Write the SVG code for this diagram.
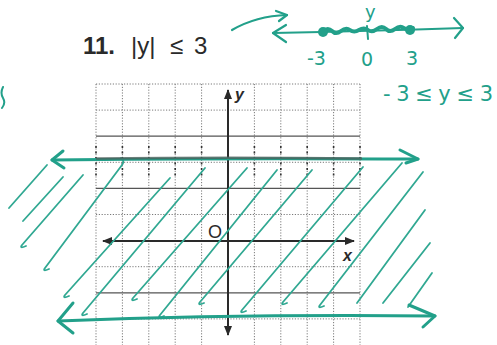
<svg xmlns="http://www.w3.org/2000/svg" width="497" height="345" viewBox="0 0 497 345">
<style>
.grid{stroke:#7a7a7a;stroke-width:1;stroke-dasharray:1.2 1.6;fill:none}
.gsolid{stroke:#555;stroke-width:1.2;fill:none}
.pen{stroke:#333;stroke-width:1.6;stroke-dasharray:2 3.5;fill:none}
.axis{stroke:#2a2a2a;stroke-width:2;fill:none}
.teal{stroke:#22a08a;fill:none;stroke-linecap:round;stroke-linejoin:round}
.hatch{stroke:#30a892;stroke-width:1.8;fill:none;stroke-linecap:round;stroke-linejoin:round}
.hand{font-family:"DejaVu Sans","Liberation Sans",sans-serif;fill:#22a08a}
.lbl{font-family:"Liberation Sans",Arial,sans-serif;fill:#2a2a2a}
</style>
<defs>
<marker id="ah" viewBox="0 0 10 10" refX="9" refY="5" markerWidth="5" markerHeight="5" orient="auto-start-reverse" markerUnits="strokeWidth">
<path d="M0,1 L10,5 L0,9 Z" fill="#2a2a2a"/>
</marker>
</defs>
<rect width="497" height="345" fill="#ffffff"/>

<g id="title">
<text class="lbl" x="83" y="54" font-size="24" font-weight="bold">11.</text>
<text class="lbl" x="131" y="54" font-size="24">|y| <tspan x="170">≤</tspan> <tspan x="194">3</tspan></text>
</g>

<g id="number-line">
<path class="teal" stroke-width="2.2" d="M232,30 Q256,16 287,15"/>
<path class="teal" stroke-width="2.2" d="M276,11 L287,15 L279,21"/>
<path class="teal" stroke-width="2.2" d="M273,33 Q370,31 463,28"/>
<path class="teal" stroke-width="2.2" d="M286,25 L273,33 L286,42"/>
<path class="teal" stroke-width="2.2" d="M454,18 L463,28 L455,38"/>
<path class="teal" stroke-width="4" d="M323,31 q5,-4 9,0 t9,0 t9,-1 t9,0 t9,0 t9,-1 t9,0 t9,0 t9,-1 t9,0"/>
<circle cx="323" cy="32" r="5" fill="#22a08a"/>
<circle cx="410" cy="30" r="5" fill="#22a08a"/>
<path class="teal" stroke-width="2" d="M367,26 L368,39"/>
<text class="hand" x="365" y="18" font-size="18">y</text>
<text class="hand" x="307" y="65" font-size="19">-3</text>
<text class="hand" x="361" y="66" font-size="19">0</text>
<text class="hand" x="406" y="65" font-size="19">3</text>
<text class="hand" x="383" y="101" font-size="21" textLength="110" lengthAdjust="spacing">-3≤y≤3</text>
<path class="teal" stroke-width="2" d="M3,87 q-3,6 0,11 q3,5 -1,10"/>
</g>

<g id="grid">
<path class="grid" d="M96,84V345M122.4,84V345M148.8,84V345M175.2,84V345M201.6,84V345M254.4,84V345M280.8,84V345M307.2,84V345M333.6,84V345M360,84V345"/>
<path class="grid" d="M96,84H360M96,110.1H360M96,162.3H360M96,214.5H360M96,266.7H360M96,318.9H360"/>
<path class="gsolid" d="M96,136.2H360M96,188.4H360M96,292.8H360"/>
<path class="pen" d="M96,146V178M122.4,146V178M148.8,146V178M175.2,146V178M201.6,146V178M254.4,146V178M280.8,146V178M307.2,146V178M333.6,146V178M360,146V178"/>
</g>

<g id="axes">
<line class="axis" x1="228" y1="335" x2="228" y2="90" marker-end="url(#ah)" marker-start="url(#ah)"/>
<line class="axis" x1="103" y1="241" x2="354" y2="241" marker-end="url(#ah)" marker-start="url(#ah)"/>
<text class="lbl" x="235" y="100" font-size="16" font-style="italic" font-weight="bold">y</text>
<text class="lbl" x="343" y="261" font-size="16" font-style="italic" font-weight="bold">x</text>
<text class="lbl" x="208" y="238" font-size="18">O</text>
</g>

<g id="hatch">
<path class="hatch" stroke-width="3.2" d="M9,208 L47,165"/>
<path class="hatch" stroke-width="3.2" d="M23,221 L63,177"/>
<path class="hatch" d="M83,175 L22,245 Q19,249 26,246"/>
<path class="hatch" d="M121,158 Q125,161 122,165 L45,268 Q42,272 49,269"/>
<path class="hatch" d="M170,178 L65,295 Q62,299 69,296"/>
<path class="hatch" d="M205,168 L83,313 Q80,317 87,314"/>
<path class="hatch" d="M247,168 L133,298 Q130,302 137,299"/>
<path class="hatch" d="M277,170 L160,315 Q157,319 164,316"/>
<path class="hatch" d="M312,170 L200,302 Q197,306 204,303"/>
<path class="hatch" d="M363,167 L242,310 Q239,314 246,311"/>
<path class="hatch" d="M402,163 L283,302 Q280,306 287,303"/>
<path class="hatch" d="M423,172 L320,305 Q317,309 324,306"/>
<path class="hatch" stroke-width="2.4" d="M425,210 L357,303"/>
<path class="hatch" stroke-width="2.4" d="M430,243 L383,303"/>
<path class="hatch" stroke-width="2.4" d="M432,273 L408,307"/>
</g>

<g id="boundary-lines">
<path class="teal" stroke-width="3" d="M52,160 Q200,158 418,159"/>
<path stroke="#4d5e5a" stroke-width="2.4" fill="none" opacity="0.75" d="M96,158.5 Q230,157 362,158.5"/>
<path class="teal" stroke-width="3" d="M63,151 L52,160 L64,168"/>
<path class="teal" stroke-width="3" d="M400,150 L418,159 L406,163"/>
<path class="teal" stroke-width="3" d="M58,321 Q240,314 435,316"/>
<path class="teal" stroke-width="3" d="M73,303 L58,321 L73,333"/>
<path class="teal" stroke-width="3" d="M409,305 L435,316 L423,327"/>
</g>
</svg>
